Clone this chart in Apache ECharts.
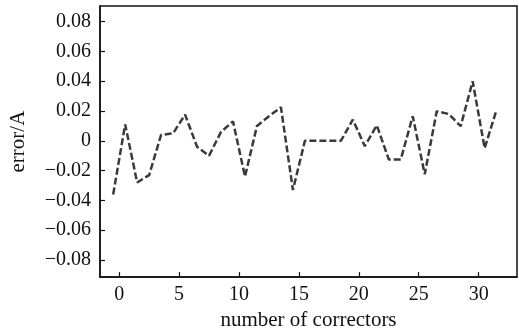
<!DOCTYPE html>
<html>
<head>
<meta charset="utf-8">
<script src="https://cdn.jsdelivr.net/npm/echarts@6/dist/echarts.min.js"></script>
<style>
  html, body { margin: 0; padding: 0; background: #fff; }
  #chart { width: 519px; height: 336px; }
</style>
</head>
<body>
<div id="chart"></div>
<script>
const correctorPos = [
  -0.5, 0.5, 1.5, 2.5, 3.5, 4.5, 5.5, 6.5, 7.5, 8.5, 9.5,
  10.5, 11.5, 12.5, 13.5, 14.5, 15.5, 16.5, 17.5, 18.5, 19.5,
  20.5, 21.5, 22.5, 23.5, 24.5, 25.5, 26.5, 27.5, 28.5, 29.5,
  30.5, 31.5
];
const errorValues = [
  -0.036, 0.011, -0.028, -0.023, 0.004, 0.005, 0.0176, -0.004, -0.010, 0.006, 0.013,
  -0.024, 0.010, 0.0165, 0.0225, -0.033, 0, 0, 0, 0, 0.0142,
  -0.0036, 0.0104, -0.0125, -0.0125, 0.0165, -0.0225, 0.0198, 0.018, 0.0098, 0.040,
  -0.005, 0.021
];
const xTicks = [0, 5, 10, 15, 20, 25, 30];
const yTicks = [-0.08, -0.06, -0.04, -0.02, 0, 0.02, 0.04, 0.06, 0.08];

const FONT = '"Liberation Serif", "DejaVu Serif", serif';

function fmtY(v) {
  if (Math.abs(v) < 1e-9) return '0';
  const s = Math.abs(v).toFixed(2);
  return v < 0 ? '\u2212' + s : s;
}

const chart = echarts.init(document.getElementById('chart'), null, { renderer: 'canvas' });

const option = {
  animation: false,
  backgroundColor: '#fff',
  grid: {
    left: 100,
    right: 2,
    top: 6,
    bottom: 58,
    show: true,
    borderColor: '#111',
    borderWidth: 1.5,
  },
  xAxis: {
    type: 'value',
    min: -1.6,
    max: 33.2,
    name: 'number of correctors',
    nameLocation: 'middle',
    nameGap: 31,
    nameTextStyle: { fontFamily: FONT, fontSize: 21, color: '#111' },
    axisLine: { show: true, onZero: false, lineStyle: { color: '#111', width: 1.5 } },
    axisTick: {
      show: true, inside: true, length: 5,
      customValues: xTicks,
      lineStyle: { color: '#111', width: 1.2 },
    },
    axisLabel: {
      customValues: xTicks,
      margin: 8,
      fontFamily: FONT, fontSize: 20, color: '#111',
    },
    splitLine: { show: false },
  },
  yAxis: {
    type: 'value',
    min: -0.0915,
    max: 0.0905,
    name: 'error/A',
    nameLocation: 'middle',
    nameGap: 71,
    nameTextStyle: { fontFamily: FONT, fontSize: 21, color: '#111' },
    axisLine: { show: true, onZero: false, lineStyle: { color: '#111', width: 1.5 } },
    axisTick: {
      show: true, inside: true, length: 5,
      customValues: yTicks,
      lineStyle: { color: '#111', width: 1.2 },
    },
    axisLabel: {
      customValues: yTicks,
      margin: 9,
      formatter: fmtY,
      fontFamily: FONT, fontSize: 20, color: '#111',
    },
    splitLine: { show: false },
  },
  series: [
    {
      type: 'line',
      data: correctorPos.map((x, i) => [x, errorValues[i]]),
      symbol: 'none',
      lineStyle: { color: '#3a3a3a', width: 2.5, type: [7, 3] },
    },
  ],
};

chart.setOption(option);
</script>
</body>
</html>
